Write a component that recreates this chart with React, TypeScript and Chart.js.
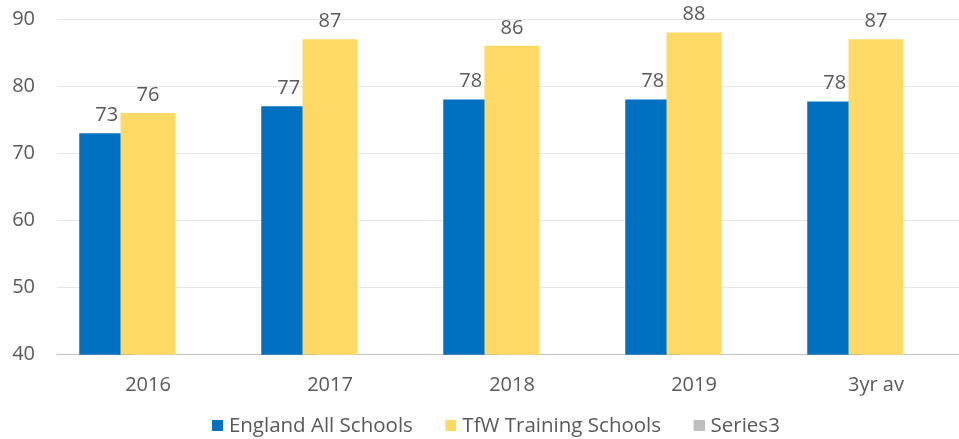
import React, { useEffect, useRef } from "react";
import { Chart, registerables } from "chart.js";

Chart.register(...registerables);

const categories = ["2016", "2017", "2018", "2019", "3yr av"];
const englandAllSchools = [73, 77, 78, 78, 77.7];
const tfwTrainingSchools = [76, 87, 86, 88, 87];
const series3: (number | null)[] = [null, null, null, null, null];
const seriesNames = ["England All Schools", "TfW Training Schools", "Series3"];
const yMin = 40;
const yMax = 90;
const yStep = 10;

const FONT = "'Open Sans', 'Noto Sans', sans-serif";
const TEXT = "#595959";
const LEGEND_FS = 20.5;
const SWATCH_W = 19.5; // legend pointStyleWidth
const SQUARE = 11;

// legend swatch: transparent lead-in + 11px square flush right
function makeSwatch(color: string) {
  const w = Math.round(SWATCH_W + LEGEND_FS - 12);
  const c = document.createElement("canvas");
  c.width = w;
  c.height = SQUARE;
  const g = c.getContext("2d")!;
  g.fillStyle = color;
  g.fillRect(w - SQUARE, 0, SQUARE, SQUARE);
  return c;
}

// draw datasets in index order so later series overlap earlier ones (Excel style)
const drawOrderPlugin = {
  id: "drawOrder",
  beforeDatasetsDraw(chart: any) {
    const metas = chart.getSortedVisibleDatasetMetas();
    const { ctx, chartArea } = chart;
    ctx.save();
    ctx.beginPath();
    ctx.rect(chartArea.left, chartArea.top, chartArea.right - chartArea.left, chartArea.bottom - chartArea.top);
    ctx.clip();
    for (const m of metas) m.controller.draw();
    ctx.restore();
    return false;
  },
};

const dataLabelPlugin = {
  id: "dataLabels",
  afterDraw(chart: any) {
    const { ctx } = chart;
    ctx.save();
    ctx.font = `20px ${FONT}`;
    ctx.fillStyle = TEXT;
    ctx.textAlign = "center";
    ctx.textBaseline = "middle";
    chart.data.datasets.forEach((ds: any, i: number) => {
      const meta = chart.getDatasetMeta(i);
      if (meta.hidden) return;
      meta.data.forEach((el: any, j: number) => {
        const v = ds.data[j];
        if (v === null || v === undefined) return;
        ctx.fillText(String(Math.round(v)), el.x, el.y - 18);
      });
    });
    ctx.restore();
  },
};

export default function App() {
  const ref = useRef<HTMLCanvasElement | null>(null);

  useEffect(() => {
    if (!ref.current) return;
    const chart = new Chart(ref.current, {
      type: "bar",
      data: {
        labels: categories,
        datasets: [
          { label: seriesNames[0], data: englandAllSchools, backgroundColor: "#0070C0" },
          { label: seriesNames[1], data: tfwTrainingSchools, backgroundColor: "#FFD966" },
          { label: seriesNames[2], data: series3, backgroundColor: "#BFBFBF" },
        ],
      },
      options: {
        animation: false,
        responsive: true,
        maintainAspectRatio: false,
        devicePixelRatio: 1,
        categoryPercentage: 0.68,
        barPercentage: 1.3333,
        layout: { padding: { top: 19, left: 18, right: 21, bottom: 1 } },
        scales: {
          x: {
            grid: { display: false, drawTicks: false },
            border: { display: true, color: "#BFBFBF", width: 1 },
            ticks: {
              color: TEXT,
              font: { family: FONT, size: 20 },
              padding: 19,
            },
            afterFit: (s: any) => {
              s.height = 41;
            },
          },
          y: {
            min: yMin,
            max: yMax,
            border: { display: false },
            grid: {
              drawTicks: false,
              color: (c: any) => (c.tick && c.tick.value === yMin ? "#BFBFBF" : "#E6E6E6"),
            },
            ticks: {
              stepSize: yStep,
              color: TEXT,
              font: { family: FONT, size: 20 },
              padding: 22,
            },
            afterFit: (s: any) => {
              s.width = 45;
              s.paddingTop = 12;
              s.paddingBottom = 12;
            },
          },
        },
        plugins: {
          legend: {
            position: "bottom",
            labels: {
              color: TEXT,
              font: { family: FONT, size: LEGEND_FS },
              usePointStyle: true,
              pointStyleWidth: SWATCH_W,
              boxHeight: SQUARE,
              padding: 19.75,
              generateLabels: (c: any) =>
                Chart.defaults.plugins.legend.labels.generateLabels(c).map((it: any) => ({
                  ...it,
                  pointStyle: makeSwatch(it.fillStyle as string),
                })),
            },
          },
          tooltip: { enabled: false },
        },
      },
      plugins: [drawOrderPlugin, dataLabelPlugin],
    });
    return () => chart.destroy();
  }, []);

  return (
    <div style={{ position: "fixed", left: -6, top: 0, width: 994, height: 447, background: "#fff" }}>
      <canvas ref={ref} />
    </div>
  );
}
